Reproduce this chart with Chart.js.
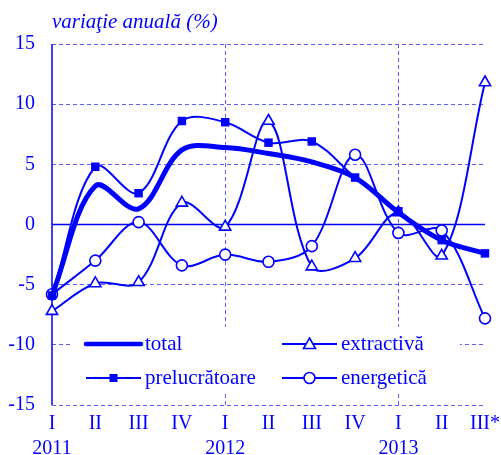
<!DOCTYPE html>
<html lang="ro">
<head>
<meta charset="utf-8">
<title>variaţie anuală (%)</title>
<script src="https://cdn.jsdelivr.net/npm/chart.js@4.4.1/dist/chart.umd.min.js"></script>
<style>
    html, body { margin: 0; padding: 0; background: #fff; }
    #wrap { width: 501px; height: 455px; }
</style>
</head>
<body>
<div id="wrap"><canvas id="chart" width="501" height="455"></canvas></div>
<script>
// Podaci (trimestre 2011 - 2013)
const quarters = ['I', 'II', 'III', 'IV', 'I', 'II', 'III', 'IV', 'I', 'II', 'III*'];
const years = ['2011', '', '', '', '2012', '', '', '', '2013', '', ''];

const total = [-5.9, 3.2, 1.3, 6.2, 6.4, 5.9, 5.2, 3.9, 1.0, -1.3, -2.4];
const prelucratoare = [-5.9, 4.8, 2.6, 8.6, 8.5, 6.8, 6.9, 3.9, 1.1, -1.3, -2.4];
const extractiva = [-7.2, -4.9, -4.8, 1.8, -0.2, 8.6, -3.5, -2.8, 1.0, -2.6, 11.8];
const energetica = [-5.8, -3.0, 0.2, -3.4, -2.5, -3.1, -1.8, 5.8, -0.7, -0.5, -7.8];

const yTicks = [15, 10, 5, 0, -5, -10, -15];

const titleText = 'variaţie anuală (%)';
const legendNames = ['total', 'extractivă', 'prelucrătoare', 'energetică'];

const BLUE = '#0000ff';
const GRID = '#6060ff';
const FONT = '"Liberation Serif", "Times New Roman", serif';

document.addEventListener('DOMContentLoaded', function() {
    const ctx = document.getElementById('chart').getContext('2d');

    // crtanje markera za legendu
    function drawMarker(c, style, x, y) {
        c.save();
        c.lineWidth = 1.6;
        c.strokeStyle = BLUE;
        c.fillStyle = BLUE;
        if (style === 'rect') {
            c.fillRect(x - 4, y - 4, 8, 8);
        } else if (style === 'triangle') {
            c.fillStyle = '#fff';
            c.beginPath();
            c.moveTo(x, y - 6);
            c.lineTo(x + 6, y + 4.5);
            c.lineTo(x - 6, y + 4.5);
            c.closePath();
            c.fill();
            c.stroke();
        } else if (style === 'circle') {
            c.fillStyle = '#fff';
            c.beginPath();
            c.arc(x, y, 5.5, 0, Math.PI * 2);
            c.fill();
            c.stroke();
        }
        c.restore();
    }

    // os, nulta linija, naslov i legenda
    const decorPlugin = {
        id: 'decor',
        beforeDatasetsDraw(chart) {
            const c = chart.ctx;
            const area = chart.chartArea;
            const y0 = chart.scales.y.getPixelForValue(0);
            c.save();
            c.strokeStyle = BLUE;
            c.lineWidth = 1.5;
            c.beginPath();
            c.moveTo(area.left, y0);
            c.lineTo(area.right, y0);
            c.moveTo(area.left, area.top);
            c.lineTo(area.left, area.bottom);
            c.stroke();
            c.restore();
        },
        afterDraw(chart) {
            const c = chart.ctx;
            const area = chart.chartArea;
            c.save();
            // naslov
            c.fillStyle = BLUE;
            c.font = 'italic 21px ' + FONT;
            c.textBaseline = 'alphabetic';
            c.textAlign = 'left';
            c.fillText(titleText, area.left, 28);

            // legenda unutar grafa
            c.fillStyle = '#fff';
            c.fillRect(area.left + 20, 327, 388, 65);

            const items = [
                { ds: 0, x: 86, y: 344 },
                { ds: 2, x: 282, y: 344 },
                { ds: 1, x: 86, y: 378 },
                { ds: 3, x: 282, y: 378 }
            ];
            items.forEach(item => {
                const d = chart.data.datasets[item.ds];
                c.strokeStyle = BLUE;
                c.lineWidth = item.ds === 0 ? 4.5 : 2;
                c.lineCap = item.ds === 0 ? 'round' : 'butt';
                c.beginPath();
                c.moveTo(item.x, item.y);
                c.lineTo(item.x + 55, item.y);
                c.stroke();
                if (d.pointStyle && d.pointRadius > 0) {
                    drawMarker(c, d.pointStyle, item.x + 27.5, item.y);
                }
                c.fillStyle = BLUE;
                c.font = '21px ' + FONT;
                c.textBaseline = 'middle';
                c.fillText(d.label, item.x + 59, item.y);
            });
            c.restore();
        }
    };

    new Chart(ctx, {
        type: 'line',
        data: {
            labels: quarters.map((q, i) => [q, years[i]]),
            datasets: [
                {
                    label: legendNames[0],
                    data: total,
                    borderColor: BLUE,
                    borderWidth: 5,
                    pointRadius: 0,
                    tension: 0.35,
                    order: 2
                },
                {
                    label: legendNames[2],
                    data: prelucratoare,
                    borderColor: BLUE,
                    backgroundColor: BLUE,
                    borderWidth: 2,
                    pointStyle: 'rect',
                    pointRadius: 6,
                    pointBorderWidth: 0,
                    tension: 0.35,
                    order: 1
                },
                {
                    label: legendNames[1],
                    data: extractiva,
                    borderColor: BLUE,
                    backgroundColor: '#fff',
                    borderWidth: 2,
                    pointStyle: 'triangle',
                    pointRadius: 6.5,
                    pointBorderWidth: 1.6,
                    tension: 0.35,
                    order: 3
                },
                {
                    label: legendNames[3],
                    data: energetica,
                    borderColor: BLUE,
                    backgroundColor: '#fff',
                    borderWidth: 2,
                    pointStyle: 'circle',
                    pointRadius: 5.5,
                    pointBorderWidth: 1.6,
                    tension: 0.35,
                    order: 4
                }
            ]
        },
        options: {
            responsive: false,
            animation: false,
            layout: { padding: { top: 44, right: 16, left: 0, bottom: 0 } },
            plugins: {
                legend: { display: false },
                tooltip: { enabled: false },
                title: { display: false }
            },
            scales: {
                x: {
                    offset: false,
                    afterFit: s => {
                        s.height = 50;
                        s.paddingLeft = 0;
                        s.paddingRight = 0;
                    },
                    grid: {
                        color: c => (c.index === 4 || c.index === 8) ? GRID : 'transparent',
                        lineWidth: 1,
                        drawTicks: false
                    },
                    border: { display: false, dash: [4, 3] },
                    ticks: {
                        color: BLUE,
                        font: { family: FONT, size: 20, lineHeight: 1.25 },
                        padding: 6,
                        maxRotation: 0,
                        autoSkip: false
                    }
                },
                y: {
                    min: -15,
                    max: 15,
                    afterFit: s => { s.width = 52; },
                    afterBuildTicks: s => { s.ticks = yTicks.map(v => ({ value: v })); },
                    grid: {
                        color: GRID,
                        lineWidth: 1,
                        drawTicks: false
                    },
                    border: { display: false, dash: [4, 3] },
                    ticks: {
                        color: BLUE,
                        font: { family: FONT, size: 20 },
                        padding: 17
                    }
                }
            }
        },
        plugins: [decorPlugin]
    });
});
</script>
</body>
</html>
